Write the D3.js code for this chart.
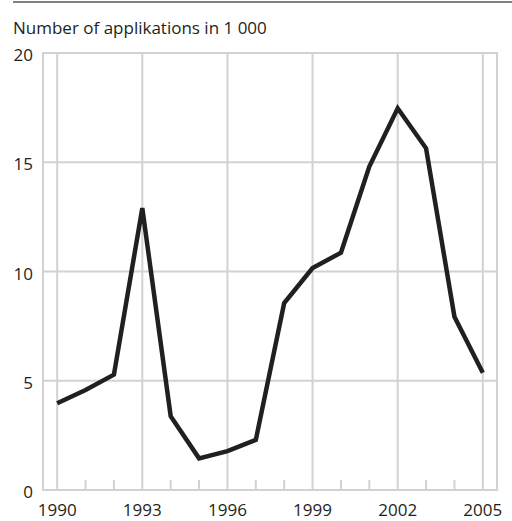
<!DOCTYPE html>
<html lang="en">
<head>
<meta charset="UTF-8">
<title>Applications</title>
<style>
  body{margin:0;background:#fff;}
  svg text{font-family:"Open Sans","Noto Sans",sans-serif;fill:#231f20;}
  .grid line{stroke:#d2d2d2;stroke-width:2;}
  .line{fill:none;stroke:#231f20;stroke-width:4.5;stroke-linejoin:miter;}
</style>
</head>
<body>
<svg id="container" width="512" height="521"></svg>
<script src="https://cdn.jsdelivr.net/npm/d3@7"></script>
<script>
// data (thousands of applications)
let years=[1990,1991,1992,1993,1994,1995,1996,1997,1998,1999,2000,2001,2002,2003,2004,2005]
let values=[3.97,4.58,5.28,12.9,3.38,1.45,1.78,2.29,8.56,10.16,10.86,14.8,17.47,15.64,7.93,5.37]
let yTicks=[0,5,10,15,20]
let xLabels=[1990,1993,1996,1999,2002,2005]
let title="Number of applikations in 1 000"

let svg=d3.select("#container")
let pLeft=43,pRight=497,pTop=53,pBottom=490

let xScale=d3.scaleLinear().domain([1989.5,2005.5]).range([pLeft,pRight])
let yScale=d3.scaleLinear().domain([0,20]).range([pBottom,pTop])

// top rule + title
svg.append("line").attr("x1",13).attr("x2",512).attr("y1",2).attr("y2",2)
  .attr("stroke","#555").attr("stroke-width",1.5)
svg.append("text").attr("x",13).attr("y",34).attr("font-size",17).text(title)

let grid=svg.append("g").attr("class","grid")
// horizontal grid
grid.selectAll(".h").data(yTicks).join("line")
  .attr("x1",pLeft).attr("x2",pRight)
  .attr("y1",d=>yScale(d)).attr("y2",d=>yScale(d))
// frame sides
grid.append("line").attr("x1",pLeft).attr("x2",pLeft).attr("y1",pTop-1).attr("y2",pBottom+1)
grid.append("line").attr("x1",pRight).attr("x2",pRight).attr("y1",pTop-1).attr("y2",pBottom+1)
// vertical grid at labelled years
grid.selectAll(".v").data(xLabels).join("line")
  .attr("x1",d=>xScale(d)).attr("x2",d=>xScale(d))
  .attr("y1",pTop).attr("y2",pBottom)
// minor ticks at other years
grid.selectAll(".t").data(years.filter(y=>!xLabels.includes(y))).join("line")
  .attr("x1",d=>xScale(d)).attr("x2",d=>xScale(d))
  .attr("y1",pBottom-10).attr("y2",pBottom)

// y labels
svg.selectAll(".yl").data(yTicks).join("text")
  .attr("x",33).attr("y",d=>yScale(d)+8)
  .attr("text-anchor","end").attr("font-size",17).text(d=>d)

// x labels
svg.selectAll(".xl").data(xLabels).join("text")
  .attr("x",d=>xScale(d)).attr("y",516)
  .attr("text-anchor","middle").attr("font-size",17).text(d=>d)

let valueline=d3.line().x((d,i)=>xScale(years[i])).y(d=>yScale(d))
svg.append("path").datum(values).attr("d",valueline).attr("class","line")
</script>
</body>
</html>
